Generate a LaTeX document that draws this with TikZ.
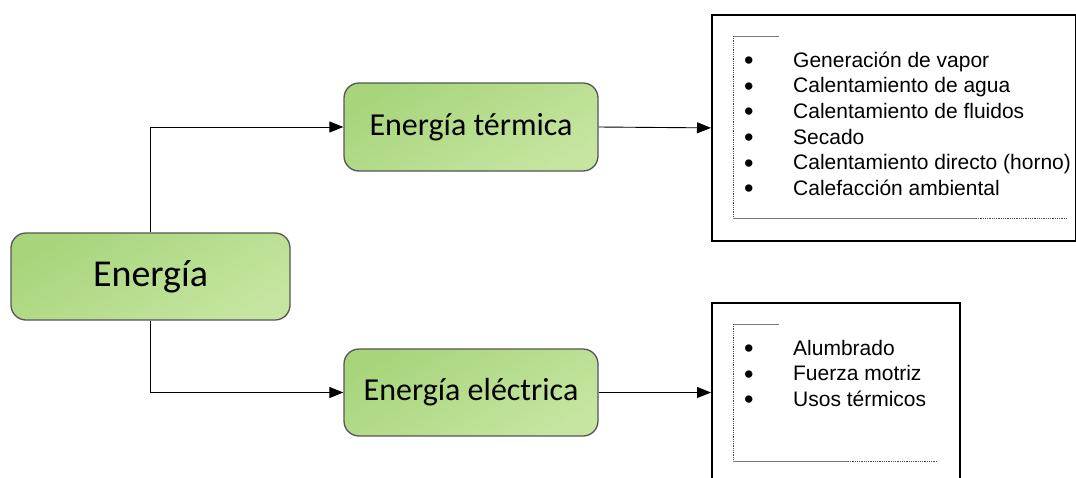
\documentclass[tikz,border=0pt]{standalone}
\usepackage{fontspec}
\setmainfont{Liberation Sans}
\newfontfamily\calib{Carlito}
\usetikzlibrary{arrows.meta}
\definecolor{gA}{RGB}{168,213,124}
\definecolor{gB}{RGB}{197,229,160}
\definecolor{edge}{RGB}{85,85,85}
\definecolor{brk}{RGB}{120,120,120}
\newcommand{\blt}{\raisebox{-2.4pt}{\fontsize{27}{25.6}\selectfont•}}
\tikzset{
  greenbox/.style={draw=edge, line width=1.3pt, rounded corners=15pt,
    top color=gA, bottom color=gB, shading angle=30, inner sep=0pt},
  listbox/.style={draw=black, line width=1.8pt, fill=white, inner sep=0pt, anchor=north west},
  conn/.style={line width=0.9pt, -{Triangle[length=14pt,width=11pt]}},
  bracketline/.style={draw=brk, line width=0.9pt},
  dotline/.style={draw=black!70, line width=0.8pt, dash pattern=on 0.9pt off 0.9pt},
  listtext/.style={anchor=base west, inner sep=0pt, font=\fontsize{21}{25.6}\selectfont}
}
\begin{document}
\begin{tikzpicture}[x=1pt,y=-1pt]
\useasboundingbox (0,0) rectangle (1076,477);

% central and branch boxes
\node[greenbox, minimum width=279pt, minimum height=87pt,
      font=\calib\fontsize{38}{40}\selectfont] (en) at (150.5,276.5) {Energía};
\node[greenbox, minimum width=254pt, minimum height=88pt,
      font=\calib\fontsize{32}{34}\selectfont] (ter) at (471,127) {Energía térmica};
\node[greenbox, minimum width=254pt, minimum height=87pt,
      font=\calib\fontsize{32}{34}\selectfont] (ele) at (471,392.5) {Energía eléctrica};

% list frames
\node[listbox, minimum width=364pt, minimum height=226pt] (box1) at (711,14) {};
\node[listbox, minimum width=248pt, minimum height=200pt] (box2) at (711,302) {};

% brackets inside the thermal list
\draw[bracketline] (733,36) -- (779,36);
\draw[dotline] (733,36) -- (733,218);
\draw[bracketline] (733,218) -- (976,218);
\draw[dotline] (976,218) -- (1067,218);

% brackets inside the electrical list
\draw[bracketline] (733,324) -- (779,324);
\draw[dotline] (733,324) -- (733,461);
\draw[bracketline] (733,461) -- (848,461);
\draw[dotline] (848,461) -- (937,461);

% list contents
\node[listtext] (list1) at (744,67.3) {%
  \begin{tabular}[t]{@{}l@{\hspace{39.5pt}}l@{}}
  \blt & Generación de vapor\\
  \blt & Calentamiento de agua\\
  \blt & Calentamiento de fluidos\\
  \blt & Secado\\
  \blt & Calentamiento directo (horno)\\
  \blt & Calefacción ambiental
  \end{tabular}};
\node[listtext] (list2) at (744,355) {%
  \begin{tabular}[t]{@{}l@{\hspace{39.5pt}}l@{}}
  \blt & Alumbrado\\
  \blt & Fuerza motriz\\
  \blt & Usos térmicos
  \end{tabular}};

% connectors
\draw[conn] (en.north) |- (ter.west);
\draw[conn] (en.south) |- (ele.west);
\draw[conn] (ter.east) -- (box1.west);
\draw[conn] (ele.east) -- (ele.east -| box2.west);
\end{tikzpicture}
\end{document}
